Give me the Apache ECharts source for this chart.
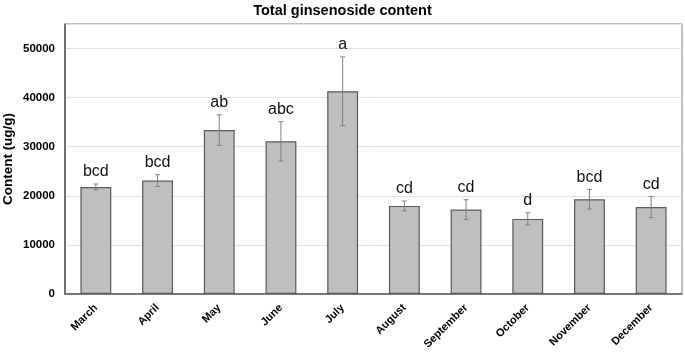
<!DOCTYPE html>
<html>
<head>
<meta charset="utf-8">
<script src="https://cdn.jsdelivr.net/npm/echarts@6/dist/echarts.min.js"></script>
<style>
  html, body { margin: 0; padding: 0; background: #fff; }
  #chart { width: 685px; height: 353px; }
</style>
</head>
<body>
<div id="chart"></div>
<script>
const months = ['March', 'April', 'May', 'June', 'July', 'August', 'September', 'October', 'November', 'December']
const content = [21800, 23100, 33400, 31100, 41300, 17950, 17200, 15300, 19300, 17700]
const errors = [600, 1200, 3100, 4000, 7000, 1000, 2000, 1250, 2000, 2150]
const letters = ['bcd', 'bcd', 'ab', 'abc', 'a', 'cd', 'cd', 'd', 'bcd', 'cd']
const yTicks = [0, 10000, 20000, 30000, 40000, 50000]

const chart = echarts.init(document.getElementById('chart'), null, { renderer: 'canvas' })
const font = 'Liberation Sans, Arial, sans-serif'

chart.setOption({
  animation: false,
  title: {
    text: 'Total ginsenoside content',
    left: 'center',
    top: -2,
    textStyle: { fontFamily: font, fontSize: 14.5, fontWeight: 'bold', color: '#000' },
  },
  grid: {
    left: 65, right: 3, top: 24, bottom: 59,
    outerBoundsMode: 'none',
    containLabel: false,
    show: true, borderColor: '#808080', borderWidth: 1,
  },
  xAxis: {
    type: 'category',
    data: months,
    axisLine: { lineStyle: { color: '#595959', width: 1.5 } },
    axisTick: { show: false },
    axisLabel: {
      rotate: 45, margin: 12, interval: 0,
      fontFamily: font, fontSize: 11, fontWeight: 'bold', color: '#000',
    },
  },
  yAxis: {
    type: 'value',
    min: 0, max: 55000, interval: 10000,
    name: 'Content (ug/g)',
    nameLocation: 'middle',
    nameGap: 50,
    nameMoveOverlap: false,
    nameTextStyle: { fontFamily: font, fontSize: 13.5, fontWeight: 'bold', color: '#000' },
    axisLine: { show: true, lineStyle: { color: '#595959', width: 1.5 } },
    axisTick: { show: false },
    axisLabel: {
      margin: 10,
      fontFamily: font, fontSize: 11.5, fontWeight: 'bold', color: '#000',
      formatter: v => yTicks.includes(v) ? String(v) : '',
    },
    splitLine: { lineStyle: { color: '#e0e0e0', width: 1 } },
  },
  series: [
    {
      type: 'bar',
      data: content,
      barWidth: '50%',
      itemStyle: { color: '#bfbfbf', borderColor: '#595959', borderWidth: 1.2 },
    },
    {
      type: 'custom',
      data: content.map((v, i) => [i, v, errors[i]]),
      z: 5,
      renderItem: (params, api) => {
        const i = api.value(0)
        const v = api.value(1)
        const e = api.value(2)
        const hi = api.coord([i, v + e])
        const lo = api.coord([i, v - e])
        const cap = 2.5
        const lineStyle = { stroke: '#808080', lineWidth: 1 }
        return {
          type: 'group',
          children: [
            { type: 'line', shape: { x1: hi[0], y1: hi[1], x2: lo[0], y2: lo[1] }, style: lineStyle },
            { type: 'line', shape: { x1: hi[0] - cap, y1: hi[1], x2: hi[0] + cap, y2: hi[1] }, style: lineStyle },
            { type: 'line', shape: { x1: lo[0] - cap, y1: lo[1], x2: lo[0] + cap, y2: lo[1] }, style: lineStyle },
            {
              type: 'text',
              style: {
                text: letters[params.dataIndex],
                x: hi[0], y: hi[1] - 4,
                align: 'center', verticalAlign: 'bottom',
                font: '16px ' + font, fill: '#111',
              },
            },
          ],
        }
      },
    },
  ],
})
</script>
</body>
</html>
